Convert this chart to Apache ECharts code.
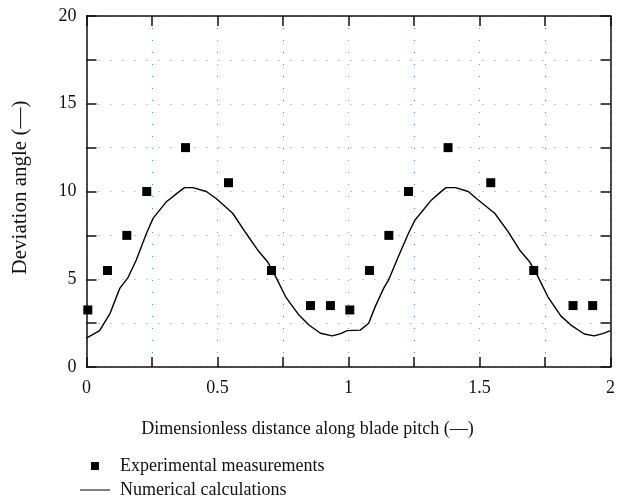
<!DOCTYPE html>
<html>
<head>
<meta charset="utf-8">
<script src="https://cdn.jsdelivr.net/npm/echarts@6/dist/echarts.min.js"></script>
<style>html,body{margin:0;padding:0;background:#fff}#c{width:618px;height:504px}</style>
</head>
<body>
<div id="c"></div>
<script>
// Experimental measurements
var expX = [0.005, 0.08, 0.154, 0.23, 0.378, 0.542, 0.706, 0.855, 0.931, 1.005, 1.08, 1.154, 1.229, 1.38, 1.543, 1.707, 1.857, 1.932];
var expY = [3.25, 5.5, 7.5, 10, 12.5, 10.5, 5.5, 3.5, 3.5, 3.25, 5.5, 7.5, 10, 12.5, 10.5, 5.5, 3.5, 3.5];
// Numerical calculations
var numX = [0, 0.05, 0.09, 0.127, 0.159, 0.19, 0.229, 0.254, 0.305, 0.35, 0.374, 0.406, 0.457, 0.495, 0.558, 0.609, 0.653, 0.691, 0.722, 0.76, 0.811, 0.849, 0.893, 0.938, 0.97, 0.995,
            1.045, 1.077, 1.102, 1.134, 1.153, 1.19, 1.229, 1.254, 1.317, 1.35, 1.372, 1.408, 1.457, 1.495, 1.558, 1.609, 1.653, 1.691, 1.723, 1.761, 1.811, 1.849, 1.9, 1.938, 1.97, 2.0];
var numY = [1.64, 2.07, 3.06, 4.48, 5.11, 6.1, 7.62, 8.47, 9.42, 9.95, 10.22, 10.22, 10.0, 9.6, 8.76, 7.62, 6.67, 6.0, 5.15, 4.0, 2.96, 2.39, 1.92, 1.77, 1.9, 2.07,
            2.1, 2.49, 3.44, 4.48, 4.96, 6.28, 7.62, 8.38, 9.52, 9.95, 10.22, 10.22, 10.0, 9.52, 8.76, 7.71, 6.67, 6.0, 5.15, 4.0, 2.9, 2.39, 1.88, 1.77, 1.9, 2.07];
var xTicks = {min: 0, max: 2, step: 0.25};
var yTicks = {min: 0, max: 20, step: 2.5};
var seriesNames = ['Experimental measurements', 'Numerical calculations'];
var xName = 'Dimensionless distance along blade pitch (—)';
var yName = 'Deviation angle (—)';

var FONT = "'Liberation Serif', 'DejaVu Serif', serif";
var expData = expX.map(function (x, i) { return [x, expY[i]]; });
var numData = numX.map(function (x, i) { return [x, numY[i]]; });

function near(v, m) { return Math.abs(v / m - Math.round(v / m)) < 1e-6; }

var axisLine = {show: true, onZero: false, lineStyle: {color: '#111', width: 1.5}};
var tick = {show: true, inside: true, length: 10, lineStyle: {color: '#111', width: 1.5}};

// legend icons: bounding box fixed at 30x8 by tiny corner dots
var CORNERS = ' M0,0h0.01v0.01h-0.01z M29.99,7.99h0.01v0.01h-0.01z';
var squareIcon = 'path://M11,0h8v8h-8z' + CORNERS;
var lineIcon = 'path://M0,3.4h30v1.2h-30z' + CORNERS;

var chart = echarts.init(document.getElementById('c'), null, {renderer: 'canvas'});
chart.setOption({
  animation: false,
  backgroundColor: '#fff',
  textStyle: {fontFamily: FONT},
  grid: {left: 86.5, right: 5, top: 16, bottom: 137, containLabel: false},
  xAxis: [{
    type: 'value', min: xTicks.min, max: xTicks.max, interval: xTicks.step, position: 'bottom',
    axisLine: axisLine, axisTick: tick,
    axisLabel: {margin: 12, color: '#111', fontSize: 18, fontFamily: FONT,
      formatter: function (v) { return near(v, 0.5) ? String(v) : ''; }},
    splitLine: {show: true, lineStyle: {color: ['#999', '#3a9e9e'], type: [1, 11], width: 1}},
    name: xName, nameLocation: 'middle', nameGap: 53,
    nameTextStyle: {color: '#111', fontSize: 18, fontFamily: FONT, padding: [0, 82, 0, 0]}
  }, {
    type: 'value', min: xTicks.min, max: xTicks.max, interval: xTicks.step, position: 'top',
    axisLine: axisLine, axisTick: tick, axisLabel: {show: false}, splitLine: {show: false}
  }],
  yAxis: [{
    type: 'value', min: yTicks.min, max: yTicks.max, interval: yTicks.step, position: 'left',
    axisLine: axisLine, axisTick: tick,
    axisLabel: {margin: 10, color: '#111', fontSize: 18, fontFamily: FONT,
      formatter: function (v) { return near(v, 5) ? String(v) : ''; }},
    splitLine: {show: true, lineStyle: {color: '#999', type: [1, 11], width: 1}},
    name: yName, nameLocation: 'middle', nameGap: 56,
    nameTextStyle: {color: '#111', fontSize: 21, fontFamily: FONT, padding: [0, 0, 0, 8]}
  }, {
    type: 'value', min: yTicks.min, max: yTicks.max, interval: yTicks.step, position: 'right',
    axisLine: axisLine, axisTick: tick, axisLabel: {show: false}, splitLine: {show: false}
  }],
  legend: {
    orient: 'vertical', left: 75, top: 452, itemWidth: 30, itemHeight: 8, itemGap: 6,
    textStyle: {color: '#111', fontSize: 18, fontFamily: FONT, padding: [0, 0, 0, 5]},
    data: [{name: seriesNames[0], icon: squareIcon, itemStyle: {color: '#000'}},
           {name: seriesNames[1], icon: lineIcon, itemStyle: {color: '#000'}}]
  },
  series: [{
    name: seriesNames[1], type: 'line', data: numData, showSymbol: false, symbol: 'none',
    lineStyle: {color: '#000', width: 1.4}, itemStyle: {color: '#000'}, z: 2
  }, {
    name: seriesNames[0], type: 'scatter', data: expData, symbol: 'rect', symbolSize: 9,
    itemStyle: {color: '#000', opacity: 1}, z: 3
  }]
});
</script>
</body>
</html>
